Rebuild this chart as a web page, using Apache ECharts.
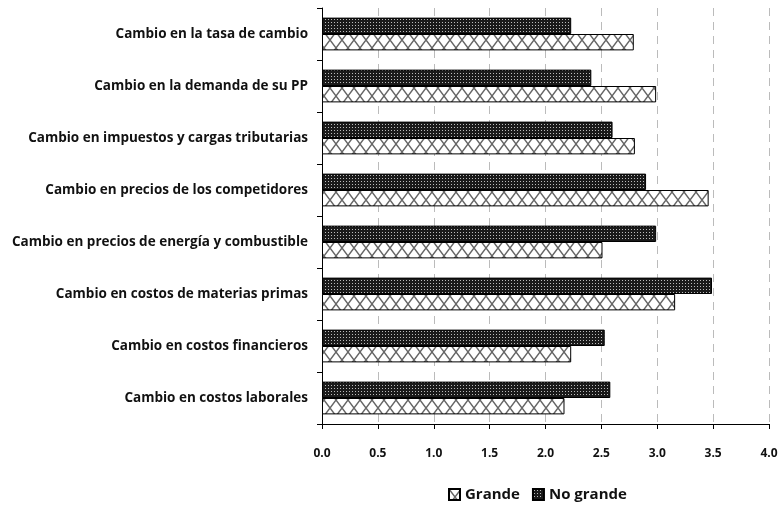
<!DOCTYPE html>
<html>
<head>
<meta charset="utf-8">
<script src="https://cdn.jsdelivr.net/npm/echarts@6/dist/echarts.min.js"></script>
<style>
  html, body { margin: 0; padding: 0; background: #fff; }
  #chart { width: 782px; height: 510px; }
</style>
</head>
<body>
<div id="chart"></div>
<script>
// categorias de abajo hacia arriba (eje de categorias en y)
var categories = [
  'Cambio en costos laborales',
  'Cambio en costos financieros',
  'Cambio en costos de materias primas',
  'Cambio en precios de energía y combustible',
  'Cambio en precios de los competidores',
  'Cambio en impuestos y cargas tributarias',
  'Cambio en la demanda de su PP',
  'Cambio en la tasa de cambio'
];
var grande = [2.17, 2.23, 3.16, 2.51, 3.46, 2.80, 2.99, 2.79];
var noGrande = [2.58, 2.53, 3.49, 2.99, 2.90, 2.60, 2.41, 2.23];

// patron de cruces (Grande)
function crossPattern() {
  var c = document.createElement('canvas');
  c.width = 12; c.height = 16;
  var ctx = c.getContext('2d');
  ctx.fillStyle = '#fff';
  ctx.fillRect(0, 0, 12, 16);
  ctx.strokeStyle = '#666';
  ctx.lineWidth = 1.4;
  ctx.beginPath();
  ctx.moveTo(0, 0); ctx.lineTo(12, 16);
  ctx.moveTo(12, 0); ctx.lineTo(0, 16);
  ctx.stroke();
  return c;
}
// patron de puntos (No grande)
function dotPattern() {
  var c = document.createElement('canvas');
  c.width = 3; c.height = 3;
  var ctx = c.getContext('2d');
  ctx.fillStyle = '#1a1a1a';
  ctx.fillRect(0, 0, 3, 3);
  ctx.fillStyle = '#bbb';
  ctx.fillRect(1, 1, 1, 1);
  return c;
}

var chart = echarts.init(document.getElementById('chart'));
var labelFont = '"Open Sans", Lato, sans-serif';

var option = {
  animation: false,
  grid: { left: 322, right: 13, top: 8, bottom: 86 },
  legend: {
    bottom: 3,
    left: 443,
    icon: 'rect',
    itemWidth: 11,
    itemHeight: 11,
    itemGap: 12,
    textStyle: { fontFamily: labelFont, fontWeight: 'bold', fontSize: 15, color: '#111' },
    data: ['Grande', 'No grande']
  },
  xAxis: {
    type: 'value',
    min: 0,
    max: 4,
    interval: 0.5,
    axisLine: { show: true, lineStyle: { color: '#000', width: 1 } },
    axisTick: { show: true, length: 5, lineStyle: { color: '#000' } },
    axisLabel: {
      margin: 24,
      fontFamily: labelFont,
      fontWeight: 'bold',
      fontSize: 12,
      color: '#111',
      formatter: function (v) { return v.toFixed(1); }
    },
    splitLine: { show: true, lineStyle: { color: '#bbb', type: [8, 6], width: 1 } }
  },
  yAxis: {
    type: 'category',
    data: categories,
    axisLine: { show: true, lineStyle: { color: '#000', width: 1 } },
    axisTick: { show: true, length: 5, lineStyle: { color: '#000' } },
    axisLabel: {
      margin: 14,
      fontFamily: labelFont,
      fontWeight: 'bold',
      fontSize: 13.5,
      color: '#111'
    }
  },
  series: [
    {
      name: 'No grande',
      type: 'bar',
      data: noGrande,
      barGap: '0%',
      barCategoryGap: '37%',
      itemStyle: {
        color: { image: dotPattern(), repeat: 'repeat' },
        borderColor: '#000',
        borderWidth: 1
      }
    },
    {
      name: 'Grande',
      type: 'bar',
      data: grande,
      barGap: '0%',
      barCategoryGap: '37%',
      itemStyle: {
        color: { image: crossPattern(), repeat: 'repeat' },
        borderColor: '#000',
        borderWidth: 1
      }
    }
  ]
};
chart.setOption(option);
</script>
</body>
</html>
